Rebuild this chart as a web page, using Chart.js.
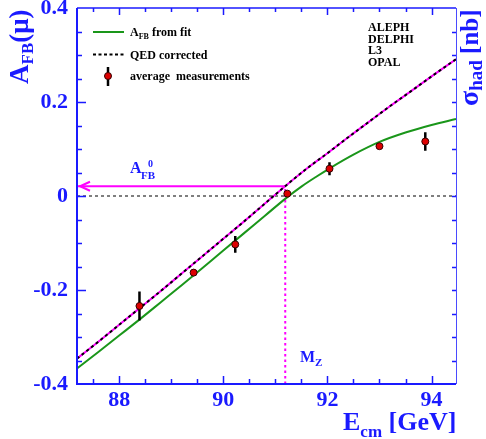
<!DOCTYPE html>
<html>
<head>
<meta charset="utf-8">
<script src="https://cdn.jsdelivr.net/npm/chart.js@4.4.1/dist/chart.umd.min.js"></script>
<style>
  body { margin: 0; background: #fff; }
</style>
</head>
<body>
<canvas id="afbChart" width="486" height="439"></canvas>
<script>
// measured points (average of the four experiments)
const ecm = [88.39, 89.43, 90.23, 91.23, 92.04, 93.00, 93.88];
const afb = [-0.234, -0.163, -0.103, 0.005, 0.058, 0.106, 0.116];
const afbErr = [0.031, 0.005, 0.018, 0.003, 0.014, 0.004, 0.0195];

// fit curve (green)
const fitX = [87.19, 87.6, 88.0, 88.4, 88.8, 89.2, 89.6, 90.0, 90.4, 90.8, 91.2, 91.5, 91.8, 92.06, 92.5, 93.0, 93.5, 94.0, 94.47];
const fitY = [-0.367, -0.332, -0.297, -0.262, -0.226, -0.19, -0.153, -0.116, -0.079, -0.042, -0.005, 0.020, 0.042, 0.060, 0.088, 0.115, 0.135, 0.151, 0.164];

// QED corrected curve
const qedX = [87.19, 87.6, 88.0, 88.4, 88.8, 89.2, 89.6, 90.0, 90.4, 90.8, 91.2, 91.6, 92.0, 92.4, 92.8, 93.2, 93.6, 94.0, 94.47];
const qedY = [-0.346, -0.310, -0.274, -0.238, -0.202, -0.165, -0.128, -0.091, -0.054, -0.016, 0.022, 0.058, 0.091, 0.125, 0.158, 0.191, 0.2225, 0.2545, 0.291];

const mZ = 91.19;
const afb0 = 0.0208;

const xMin = 87.19, xMax = 94.47;
const yMin = -0.4, yMax = 0.4;
const xTicks = [88, 90, 92, 94];
const yTicks = [-0.4, -0.2, 0, 0.2, 0.4];

const BLUE = '#1a1aff';
const GREEN = '#1a961a';
const MAGENTA = '#ff00ff';
const SERIF = 'Liberation Serif';

// error bars as line pieces split by gaps
let errPts = [];
ecm.forEach((e, i) => {
    errPts.push({x: e, y: afb[i] - afbErr[i]});
    errPts.push({x: e, y: afb[i] + afbErr[i]});
    errPts.push({x: e, y: null});
});

function pts(xs, ys) {
    return xs.map((v, i) => ({x: v, y: ys[i]}));
}

// draws text pieces one after another: [text, size, yShift]
function pieces(ctx, x, y, parts) {
    parts.forEach(p => {
        ctx.font = 'bold ' + p[1] + 'px "' + SERIF + '"';
        ctx.fillText(p[0], x, y + p[2]);
        x += ctx.measureText(p[0]).width;
    });
}

function noPad(s) {
    s.paddingTop = 0; s.paddingBottom = 0;
    s.paddingLeft = 0; s.paddingRight = 0;
}

const decor = {
    id: 'decor',
    afterDraw(chart) {
        const ctx = chart.ctx;
        const a = chart.chartArea;
        const x = chart.scales.x, y = chart.scales.y;
        ctx.save();

        // frame
        ctx.strokeStyle = BLUE;
        ctx.lineWidth = 2;
        ctx.beginPath();
        ctx.moveTo(a.left, a.top); ctx.lineTo(a.left, a.bottom); ctx.lineTo(a.right, a.bottom);
        ctx.stroke();
        ctx.lineWidth = 1.5;
        ctx.beginPath();
        ctx.moveTo(a.left, a.top); ctx.lineTo(a.right, a.top);
        ctx.stroke();
        ctx.strokeStyle = '#4a4aff';
        ctx.lineWidth = 1;
        ctx.beginPath();
        ctx.moveTo(a.right + 0.5, a.top); ctx.lineTo(a.right + 0.5, a.bottom);
        ctx.stroke();

        // tick marks
        ctx.strokeStyle = BLUE;
        ctx.lineWidth = 1.5;
        ctx.beginPath();
        for (let v = 87.5; v < xMax; v += 0.5) {
            const px = Math.round(x.getPixelForValue(v)) + 0.5;
            const len = (v % 2 === 0) ? 8 : 5;
            ctx.moveTo(px, a.bottom); ctx.lineTo(px, a.bottom - len);
            ctx.moveTo(px, a.top); ctx.lineTo(px, a.top + len - 1);
        }
        for (let k = -7; k <= 7; k++) {
            const v = k * 0.05;
            const py = Math.round(y.getPixelForValue(v)) + 0.5;
            const len = (k % 4 === 0) ? 9 : 5;
            ctx.moveTo(a.left, py); ctx.lineTo(a.left + len, py);
            ctx.moveTo(a.right, py); ctx.lineTo(a.right - 4, py);
        }
        ctx.stroke();

        // arrow head of A_FB^0
        const tipX = x.getPixelForValue(xMin) + 3;
        const tipY = y.getPixelForValue(afb0);
        ctx.strokeStyle = MAGENTA;
        ctx.lineWidth = 2;
        ctx.beginPath();
        ctx.moveTo(tipX + 10, tipY - 4.5); ctx.lineTo(tipX, tipY); ctx.lineTo(tipX + 10, tipY + 4.5);
        ctx.stroke();

        // legend
        ctx.strokeStyle = GREEN;
        ctx.lineWidth = 2;
        ctx.beginPath(); ctx.moveTo(93, 32); ctx.lineTo(124, 32); ctx.stroke();
        ctx.strokeStyle = '#000';
        ctx.setLineDash([3, 2.5]);
        ctx.beginPath(); ctx.moveTo(93, 54.5); ctx.lineTo(124, 54.5); ctx.stroke();
        ctx.setLineDash([]);
        ctx.lineWidth = 2.5;
        ctx.beginPath(); ctx.moveTo(108, 67); ctx.lineTo(108, 86); ctx.stroke();
        ctx.fillStyle = '#dd0000';
        ctx.lineWidth = 1;
        ctx.strokeStyle = '#330000';
        ctx.beginPath(); ctx.arc(108, 76, 3.5, 0, Math.PI * 2); ctx.fill(); ctx.stroke();

        ctx.fillStyle = '#000';
        ctx.textAlign = 'left';
        ctx.textBaseline = 'alphabetic';
        pieces(ctx, 130, 36, [['A', 12, 0], ['FB', 8, 3], [' from fit', 12, 0]]);
        pieces(ctx, 130, 59, [['QED corrected', 12, 0]]);
        pieces(ctx, 130, 80, [['average  measurements', 12, 0]]);
        ['ALEPH', 'DELPHI', 'L3', 'OPAL'].forEach((s, i) => {
            pieces(ctx, 368, 31 + i * 11.5, [[s, 12, 0]]);
        });

        // annotations
        ctx.fillStyle = BLUE;
        pieces(ctx, 130, 173, [['A', 16, 0]]);
        pieces(ctx, 141, 179, [['FB', 11, 0]]);
        pieces(ctx, 148, 167, [['0', 10, 0]]);
        pieces(ctx, 300, 362, [['M', 16, 0], ['Z', 11, 4]]);

        // axis titles
        pieces(ctx, 343, 430, [['E', 26, 0], ['cm', 17, 7], [' [GeV]', 26, 0]]);

        ctx.save();
        ctx.translate(28, 84);
        ctx.rotate(-Math.PI / 2);
        pieces(ctx, 0, 0, [['A', 27, 0], ['FB', 17, 5], ['(\u03bc)', 27, 0]]);
        ctx.restore();

        ctx.save();
        ctx.translate(478, 106);
        ctx.rotate(-Math.PI / 2);
        pieces(ctx, 0, 0, [['\u03c3', 28, 0], ['had', 19, 4], [' [nb]', 25, 0]]);
        ctx.restore();

        ctx.restore();
    }
};

const ctx = document.getElementById('afbChart').getContext('2d');
const afbChart = new Chart(ctx, {
    type: 'scatter',
    data: {
        datasets: [
            {
                label: 'average measurements',
                data: pts(ecm, afb),
                pointRadius: 3.5,
                pointBackgroundColor: '#dd0000',
                pointBorderColor: '#330000',
                pointBorderWidth: 1,
                showLine: false
            },
            {
                label: 'errors',
                data: errPts,
                showLine: true,
                spanGaps: false,
                pointRadius: 0,
                borderColor: '#000',
                borderWidth: 2.5
            },
            {
                label: 'QED corrected',
                data: pts(qedX, qedY),
                showLine: true,
                pointRadius: 0,
                borderColor: '#000',
                borderWidth: 2,
                borderDash: [3, 3],
                cubicInterpolationMode: 'monotone'
            },
            {
                label: 'QED magenta',
                data: pts(qedX, qedY),
                showLine: true,
                pointRadius: 0,
                borderColor: MAGENTA,
                borderWidth: 2,
                cubicInterpolationMode: 'monotone'
            },
            {
                label: 'AFB from fit',
                data: pts(fitX, fitY),
                showLine: true,
                pointRadius: 0,
                borderColor: GREEN,
                borderWidth: 2,
                cubicInterpolationMode: 'monotone'
            },
            {
                label: 'zero',
                data: [{x: xMin, y: 0}, {x: xMax, y: 0}],
                showLine: true,
                pointRadius: 0,
                borderColor: '#000',
                borderWidth: 1,
                borderDash: [3, 3]
            },
            {
                label: 'AFB0',
                data: [{x: xMin, y: afb0}, {x: mZ, y: afb0}],
                showLine: true,
                pointRadius: 0,
                borderColor: MAGENTA,
                borderWidth: 2
            },
            {
                label: 'MZ',
                data: [{x: mZ, y: yMin}, {x: mZ, y: afb0}],
                showLine: true,
                pointRadius: 0,
                borderColor: MAGENTA,
                borderWidth: 2,
                borderDash: [2.5, 3]
            }
        ]
    },
    options: {
        responsive: false,
        animation: false,
        layout: { padding: { top: 8, right: 30, left: 0, bottom: 0 } },
        plugins: {
            legend: { display: false },
            tooltip: { enabled: false }
        },
        scales: {
            x: {
                type: 'linear',
                min: xMin,
                max: xMax,
                grid: { display: false, drawTicks: false },
                border: { display: false },
                afterBuildTicks: s => { s.ticks = xTicks.map(v => ({value: v})); },
                afterFit: s => { s.height = 55; noPad(s); },
                ticks: {
                    autoSkip: false,
                    maxRotation: 0,
                    padding: 3,
                    color: BLUE,
                    font: { family: SERIF, weight: 'bold', size: 22 }
                }
            },
            y: {
                type: 'linear',
                min: yMin,
                max: yMax,
                grid: { display: false, drawTicks: false },
                border: { display: false },
                afterBuildTicks: s => { s.ticks = yTicks.map(v => ({value: v})); },
                afterFit: s => { s.width = 77; noPad(s); },
                ticks: {
                    autoSkip: false,
                    padding: 9,
                    color: BLUE,
                    font: { family: SERIF, weight: 'bold', size: 22 },
                    callback: v => (v === 0 ? '0' : v.toFixed(1))
                }
            }
        }
    },
    plugins: [decor]
});
</script>
</body>
</html>
